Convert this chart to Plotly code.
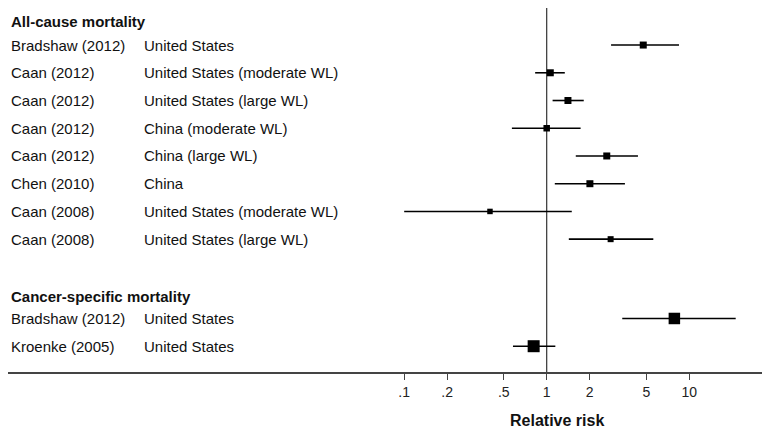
import plotly.graph_objects as go

# ---- data ----
studies = ["Bradshaw (2012)", "Caan (2012)", "Caan (2012)", "Caan (2012)", "Caan (2012)",
           "Chen (2010)", "Caan (2008)", "Caan (2008)",
           "Bradshaw (2012)", "Kroenke (2005)"]
locations = ["United States", "United States (moderate WL)", "United States (large WL)",
             "China (moderate WL)", "China (large WL)", "China",
             "United States (moderate WL)", "United States (large WL)",
             "United States", "United States"]
groups = ["All-cause mortality"] * 8 + ["Cancer-specific mortality"] * 2
rr = [4.76, 1.06, 1.41, 1.00, 2.64, 2.01, 0.40, 2.81, 7.87, 0.81]
ci_low = [2.83, 0.83, 1.10, 0.57, 1.60, 1.14, 0.10, 1.43, 3.39, 0.58]
ci_high = [8.48, 1.34, 1.82, 1.73, 4.37, 3.54, 1.50, 5.60, 21.2, 1.15]
weights = [7, 7, 7, 6.5, 7, 7, 5.5, 6, 11.5, 12]   # relative study weights (box size)
row_pos = [0, 1, 2, 3, 4, 5, 6, 7, 9.86, 10.86]
header_pos = {"All-cause mortality": -0.84, "Cancer-specific mortality": 9.06}
tick_vals = [0.1, 0.2, 0.5, 1, 2, 5, 10]
tick_text = [".1", ".2", ".5", "1", "2", "5", "10"]

# the page body has an 8px margin, so the figure is 8px smaller each way
W, H = 762, 421
FONT = "Liberation Sans, Arial, sans-serif"
plot_h = 363.7

fig = go.Figure()

# CI lines
xs, ys = [], []
for lo, hi, y in zip(ci_low, ci_high, row_pos):
    xs += [lo, hi, None]
    ys += [y, y, None]
fig.add_trace(go.Scatter(x=xs, y=ys, mode="lines",
                         line=dict(color="black", width=1.6),
                         hoverinfo="skip", showlegend=False))

# point estimates
fig.add_trace(go.Scatter(x=rr, y=row_pos, mode="markers",
                         marker=dict(symbol="square", color="#000000", opacity=1,
                                     size=weights, line=dict(width=0)),
                         showlegend=False))

# reference line at RR = 1
fig.add_shape(type="line", xref="x", yref="paper", x0=1, x1=1, y0=0, y1=1,
              line=dict(color="#333333", width=1.2), layer="below")

ann = []
for s, loc, y in zip(studies, locations, row_pos):
    ann.append(dict(x=0.7 / W, xref="paper", y=y, yref="y", text=s, showarrow=False,
                    xanchor="left", yanchor="middle",
                    font=dict(family=FONT, size=15, color="#111111")))
    ann.append(dict(x=134.2 / W, xref="paper", y=y, yref="y", text=loc, showarrow=False,
                    xanchor="left", yanchor="middle",
                    font=dict(family=FONT, size=15, color="#111111")))
for g, y in header_pos.items():
    ann.append(dict(x=0.7 / W, xref="paper", y=y, yref="y", text="<b>" + g + "</b>",
                    showarrow=False, xanchor="left", yanchor="middle",
                    font=dict(family=FONT, size=15, color="#111111")))
# axis title
ann.append(dict(x=549 / W, xref="paper", y=(plot_h - 412) / plot_h, yref="paper",
                text="<b>Relative risk</b>", showarrow=False,
                xanchor="center", yanchor="middle",
                font=dict(family=FONT, size=16, color="#111111")))

fig.update_layout(
    width=W, height=H,
    margin=dict(l=0, r=0, t=0, b=H - plot_h),
    paper_bgcolor="white", plot_bgcolor="white",
    annotations=ann,
    xaxis=dict(type="log", range=[-3.780, 1.567], showgrid=False, zeroline=False,
               showline=True, linecolor="#444444", linewidth=1.5,
               ticks="outside", ticklen=6, tickwidth=1.3, tickcolor="#444444",
               tickvals=tick_vals, ticktext=tick_text,
               tickfont=dict(family=FONT, size=14, color="#222222")),
    yaxis=dict(range=[11.79, -1.336], visible=False, showgrid=False, zeroline=False),
)

fig.write_html("out.html")
